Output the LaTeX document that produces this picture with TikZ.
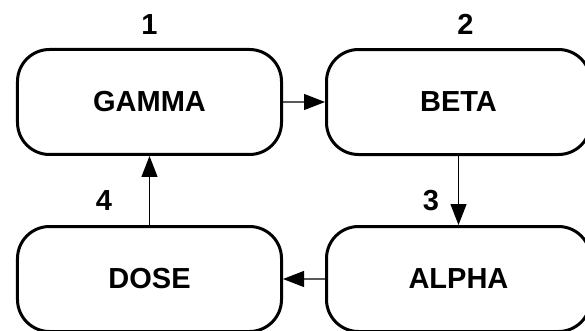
\documentclass[tikz,border=0pt]{standalone}
\usepackage{fontspec}
\setmainfont{Liberation Sans}
\usetikzlibrary{matrix,arrows.meta,positioning}

\tikzset{
  numlabel/.style={inner sep=0pt, font=\fontsize{29}{34}\selectfont\bfseries},
  flow/.style={-{Triangle[length=21pt,width=16pt]}, line width=1.2pt}
}

\begin{document}
\begin{tikzpicture}[x=1pt,y=1pt]
  \useasboundingbox (0,0) rectangle (585,330);
  \matrix (m) [matrix of nodes, inner sep=0pt, row sep=69pt, column sep=42pt,
    nodes={draw, line width=3pt, rounded corners=32pt, minimum width=264pt,
      minimum height=105pt, font=\fontsize{29}{34}\selectfont\bfseries}]
    at (304,139.5)
  {
     GAMMA & BETA \\
     DOSE & ALPHA \\
  };
  \node[numlabel, above=13pt of m-1-1] (n1) {1};
  \node[numlabel, above=13pt of m-1-2, xshift=7pt] (n2) {2};
  \path[flow]
  (m-1-1) edge (m-1-2)
  (m-1-2) edge node [numlabel, pos=0.65, left=19pt] {3} (m-2-2)
  (m-2-2) edge (m-2-1)
  (m-2-1) edge node [numlabel, pos=0.35, left=37pt] {4} (m-1-1)
  ;
\end{tikzpicture}
\end{document}
